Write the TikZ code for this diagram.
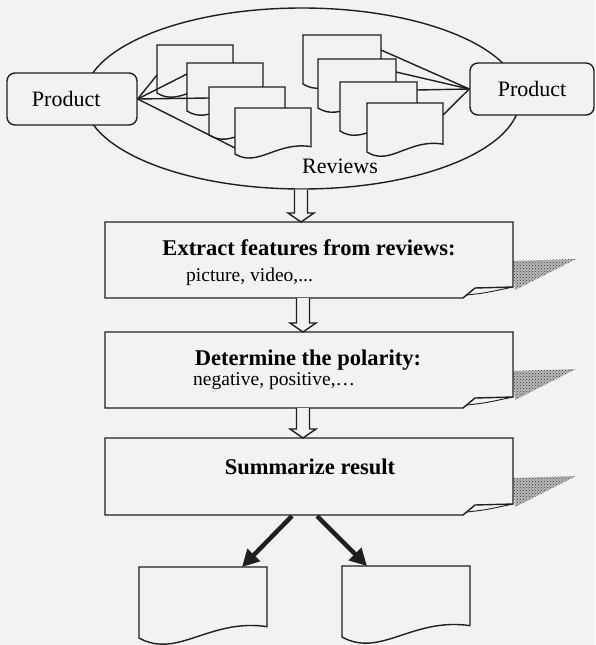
\documentclass[tikz,border=0pt]{standalone}
\usepackage{fontspec}
\setmainfont{Liberation Serif}
\usetikzlibrary{calc,arrows.meta,patterns,shapes.geometric}
\definecolor{paper}{gray}{0.95}
\definecolor{ink}{gray}{0.12}

% outline of a process box with a curled lower-right corner and its shadow
\newcommand\curlbox[1]{%
  \fill[gray!55] ($(#1.south east)+(0,-37)$) -- ($(#1.south east)+(63,-39)$) -- ($(#1.south east)+(2,-8)$) -- cycle;
  \fill[pattern=crosshatch dots, pattern color=gray!40!black] ($(#1.south east)+(0,-37)$) -- ($(#1.south east)+(63,-39)$) -- ($(#1.south east)+(2,-8)$) -- cycle;
  \filldraw[inkline, fill=paper] (#1.north west) -- (#1.north east) -- ($(#1.south east)+(0,-11)$)
    -- ($(#1.south east)+(-38,-10)$) -- ($(#1.south east)+(-50,0)$) -- (#1.south west) -- cycle;
  \draw[inkline, line width=0.9pt] ($(#1.south east)+(-46,-3)$) .. controls ($(#1.south east)+(-28,-5)$) .. ($(#1.south east)+(0,-11)$);
}
% hollow block arrow from the edge of #1 down to the tip coordinate #2
\newcommand\hollowarrow[2]{%
  \filldraw[inkline, fill=paper] ($(#2 |- #1)+(-6.5,0)$) -- ($(#2)+(-6.5,-9)$) -- ($(#2)+(-13,-9)$) -- (#2)
    -- ($(#2)+(13,-9)$) -- ($(#2)+(6.5,-9)$) -- ($(#2 |- #1)+(6.5,0)$);
}

\begin{document}
\begin{tikzpicture}[x=1pt,y=-1pt,
  inkline/.style={draw=ink, line width=1.4pt},
  prodbox/.style={inkline, fill=paper, rounded corners=8pt, minimum height=52pt,
    inner sep=0pt, font=\fontsize{22}{26}\selectfont},
  stepbox/.style={draw=none, minimum width=408pt, minimum height=#1, inner sep=0pt, outer sep=0pt},
  headtext/.style={font=\fontsize{22.5}{27}\selectfont\bfseries, inner sep=0pt, anchor=base},
  subtext/.style={font=\fontsize{19.5}{23}\selectfont, inner sep=0pt, anchor=base west},
  bigarrow/.style={draw=ink, line width=4.5pt, -{Triangle[length=17pt,width=17pt]}},
  pics/docpage/.style n args={2}{code={
    \coordinate (-nw) at (0,0);
    \coordinate (-ne) at (#1,0);
    \filldraw[inkline, fill=paper] (0,0) -- (#1,0) -- (#1,0.84*#2)
      .. controls (0.55*#1,0.72*#2) and (0.3*#1,1.3*#2) .. (0,#2) -- cycle;
  }}
]
\fill[paper] (0,0) rectangle (595,645);
\useasboundingbox (0,0) rectangle (595,645);

% review collection
\node[ellipse, inkline, minimum width=436pt, minimum height=181pt, inner sep=0pt] (reviews) at (302,98.5) {};
\node[prodbox, minimum width=130pt, text width=120pt, align=left] (lp) at (72,99) {\hspace*{20pt}Product};
\node[prodbox, minimum width=124pt] (rp) at (532,89) {Product};

\pic (L1) at (157,45) {docpage={76}{48}};
\pic (L2) at (187,63) {docpage={76}{48}};
\pic (L3) at (209,87) {docpage={76}{48}};
\pic (L4) at (235,108) {docpage={76}{46}};

\pic (R1) at (303,35) {docpage={78}{49}};
\pic (R2) at (318,59) {docpage={78}{49}};
\pic (R3) at (340,82) {docpage={77}{49}};
\pic (R4) at (367,103) {docpage={76}{49}};

\draw[inkline] (lp.east) -- ($(L1-nw)+(0,30)$);
\draw[inkline] (lp.east) -- ($(L2-nw)+(0,11)$);
\draw[inkline] (lp.east) -- ($(L3-nw)+(0,11)$);
\draw[inkline] (lp.east) -- ($(L4-nw)+(0,40)$);

\draw[inkline] (rp.west) -- ($(R1-ne)+(0,15)$);
\draw[inkline] (rp.west) -- ($(R2-ne)+(0,13)$);
\draw[inkline] (rp.west) -- ($(R3-ne)+(0,8)$);
\draw[inkline] (rp.west) -- ($(R4-ne)+(0,12)$);

\node[font=\fontsize{22}{26}\selectfont, inner sep=0pt] (revlabel) at (340,166) {Reviews};

% processing steps
\node[stepbox=76pt] (s1) at (309,260) {};
\node[stepbox=76pt] (s2) at (309,370) {};
\node[stepbox=77pt] (s3) at (309,476.5) {};
\curlbox{s1}
\curlbox{s2}
\curlbox{s3}

\node[headtext] (h1) at (309,255) {Extract features from reviews:};
\node[subtext] (d1) at (186,281) {picture, video,...};
\node[headtext] (h2) at (308,365) {Determine the polarity:};
\node[subtext] (d2) at (193,385) {negative, positive,…};
\node[headtext] (h3) at (310,474) {Summarize result};

\coordinate (t1) at ($(s1.north)+(-8,0)$);
\coordinate (t2) at ($(s2.north)+(-6,0)$);
\coordinate (t3) at ($(s3.north)+(-6,0)$);
\hollowarrow{reviews.south}{t1}
\hollowarrow{s1.south}{t2}
\hollowarrow{s2.south}{t3}

% results
\pic (B1) at (139,567) {docpage={128}{71}};
\pic (B2) at (342,566) {docpage={128}{71}};
\draw[bigarrow] ($(s3.south)+(-17,1)$) -- ($(B1-nw)+(103,0)$);
\draw[bigarrow] ($(s3.south)+(8,1)$) -- ($(B2-nw)+(25,0)$);
\end{tikzpicture}
\end{document}
